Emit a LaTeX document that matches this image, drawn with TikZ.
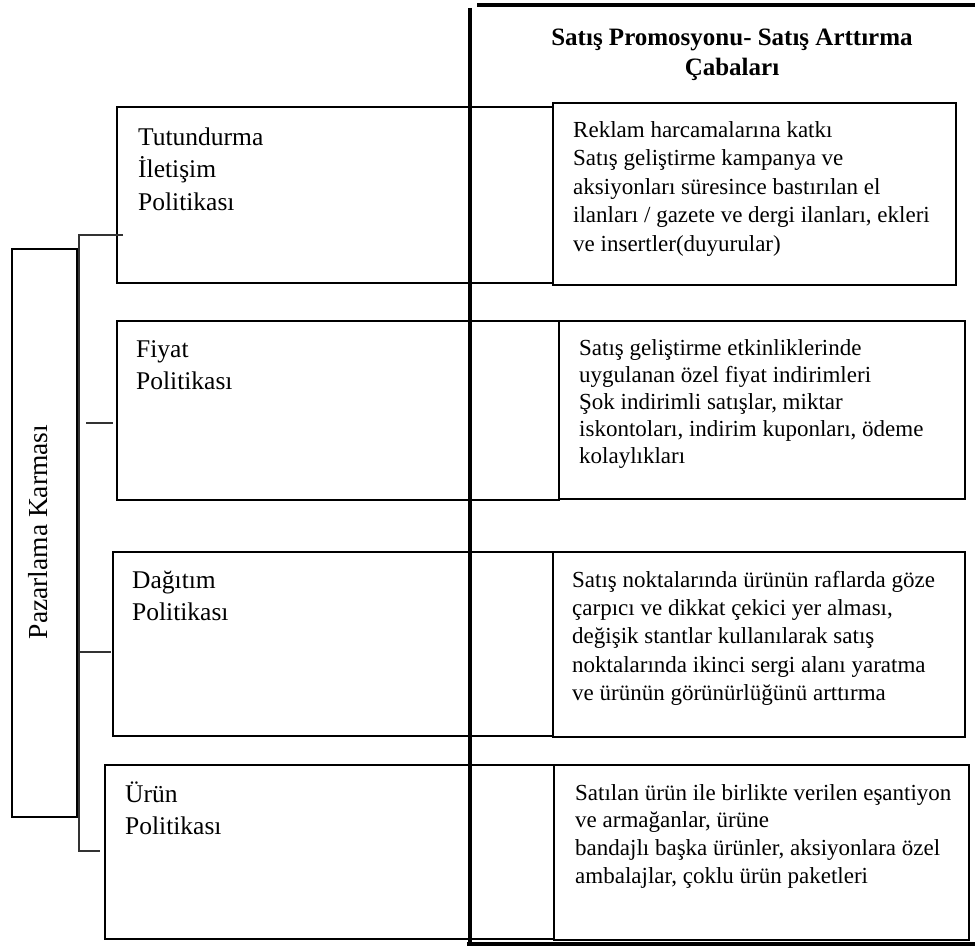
\documentclass[tikz,border=0pt]{standalone}
\usepackage{fontspec}
\setmainfont{Liberation Serif}
% strut that fixes the top of the first text line 24pt above its baseline
\newcommand{\firstrow}{\rule{0pt}{24pt}}
\begin{document}
\begin{tikzpicture}[x=1pt,y=-1pt,
  box/.style={draw, line width=1.4pt, rectangle, inner sep=0pt, outer sep=0pt, anchor=north west},
  lefttext/.style={anchor=north west, inner sep=0pt, align=left, font=\fontsize{25.5}{32.5}\selectfont},
  righttext/.style={anchor=north west, inner sep=0pt, align=left, font=\fontsize{23}{28.2}\selectfont},
  bar/.style={line width=4.5pt},
  tick/.style={line width=1.4pt, draw=black!80},
]
\useasboundingbox (0,0) rectangle (975,947);

% marketing mix box with rotated label
\node[box, minimum width=65pt, minimum height=568pt] (mix) at (12,249) {};
\node[rotate=90, anchor=base, inner sep=0pt, font=\fontsize{27.5}{30}\selectfont] (mixlabel) at (47,532) {Pazarlama Karması};

% policy boxes (left) and promotion boxes (right)
\node[box, line width=1.8pt, minimum width=436pt, minimum height=176pt] (pol1) at (117,107) {};
\node[box, minimum width=403pt, minimum height=182pt] (pro1) at (553,103) {};
\node[box, minimum width=442pt, minimum height=179pt] (pol2) at (117,321) {};
\node[box, minimum width=406pt, minimum height=178pt] (pro2) at (559,321) {};
\node[box, minimum width=440pt, minimum height=184pt] (pol3) at (113,552) {};
\node[box, minimum width=412pt, minimum height=185pt] (pro3) at (553,552) {};
\node[box, minimum width=449pt, minimum height=174pt] (pol4) at (105,765) {};
\node[box, minimum width=415pt, minimum height=175pt] (pro4) at (554,765) {};

% texts
\node[lefttext] (pol1t) at (138,121) {\firstrow Tutundurma\\İletişim\\Politikası};
\node[lefttext] (pol2t) at (136,333) {\firstrow Fiyat\\Politikası};
\node[lefttext] (pol3t) at (132,564) {\firstrow Dağıtım\\Politikası};
\node[lefttext] (pol4t) at (125,778) {\firstrow Ürün\\Politikası};

\node[righttext, font=\fontsize{23}{28.5}\selectfont] (pro1t) at (573,113) {\firstrow Reklam harcamalarına katkı\\Satış geliştirme kampanya ve\\aksiyonları süresince bastırılan el\\ilanları / gazete ve dergi ilanları, ekleri\\ve insertler(duyurular)};
\node[righttext, font=\fontsize{23}{27}\selectfont] (pro2t) at (579,331) {\firstrow Satış geliştirme etkinliklerinde\\uygulanan özel fiyat indirimleri\\Şok indirimli satışlar, miktar\\iskontoları, indirim kuponları, ödeme\\kolaylıkları};
\node[righttext, font=\fontsize{23}{28.3}\selectfont] (pro3t) at (572,563) {\firstrow Satış noktalarında ürünün raflarda göze\\çarpıcı ve dikkat çekici yer alması,\\değişik stantlar kullanılarak satış\\noktalarında ikinci sergi alanı yaratma\\ve ürünün görünürlüğünü arttırma};
\node[righttext, font=\fontsize{23}{27.6}\selectfont] (pro4t) at (575,776) {\firstrow Satılan ürün ile birlikte verilen eşantiyon\\ve armağanlar, ürüne\\bandajlı başka ürünler, aksiyonlara özel\\ambalajlar, çoklu ürün paketleri};

\node[anchor=north, align=center, inner sep=0pt, font=\bfseries\fontsize{25}{30}\selectfont] (head) at (732,21) {\firstrow Satış Promosyonu- Satış Arttırma\\Çabaları};

% bracket joining the mix to the four policies
\coordinate (brtop) at (79,235);
\coordinate (brbot) at (79,851);
\coordinate (t1) at (123,235);
\coordinate (t2a) at (86,423);
\coordinate (t2b) at (113,423);
\coordinate (t3a) at (79,652);
\coordinate (t3b) at (111,652);
\coordinate (t4) at (100,851);
\draw[tick] (t1) -- (brtop) -- (brbot) -- (t4);
\draw[tick] (t2a) -- (t2b);
\draw[tick] (t3a) -- (t3b);

% heavy frame of the promotion column
\coordinate (vtop) at (470,8);
\coordinate (vbot) at (470,944);
\coordinate (htopl) at (477,5);
\coordinate (htopr) at (975,5);
\coordinate (hbotl) at (467,944);
\coordinate (hbotr) at (975,944);
\draw[bar] (vtop) -- (vbot);
\draw[bar] (htopl) -- (htopr);
\draw[bar] (hbotl) -- (hbotr);
\end{tikzpicture}
\end{document}
